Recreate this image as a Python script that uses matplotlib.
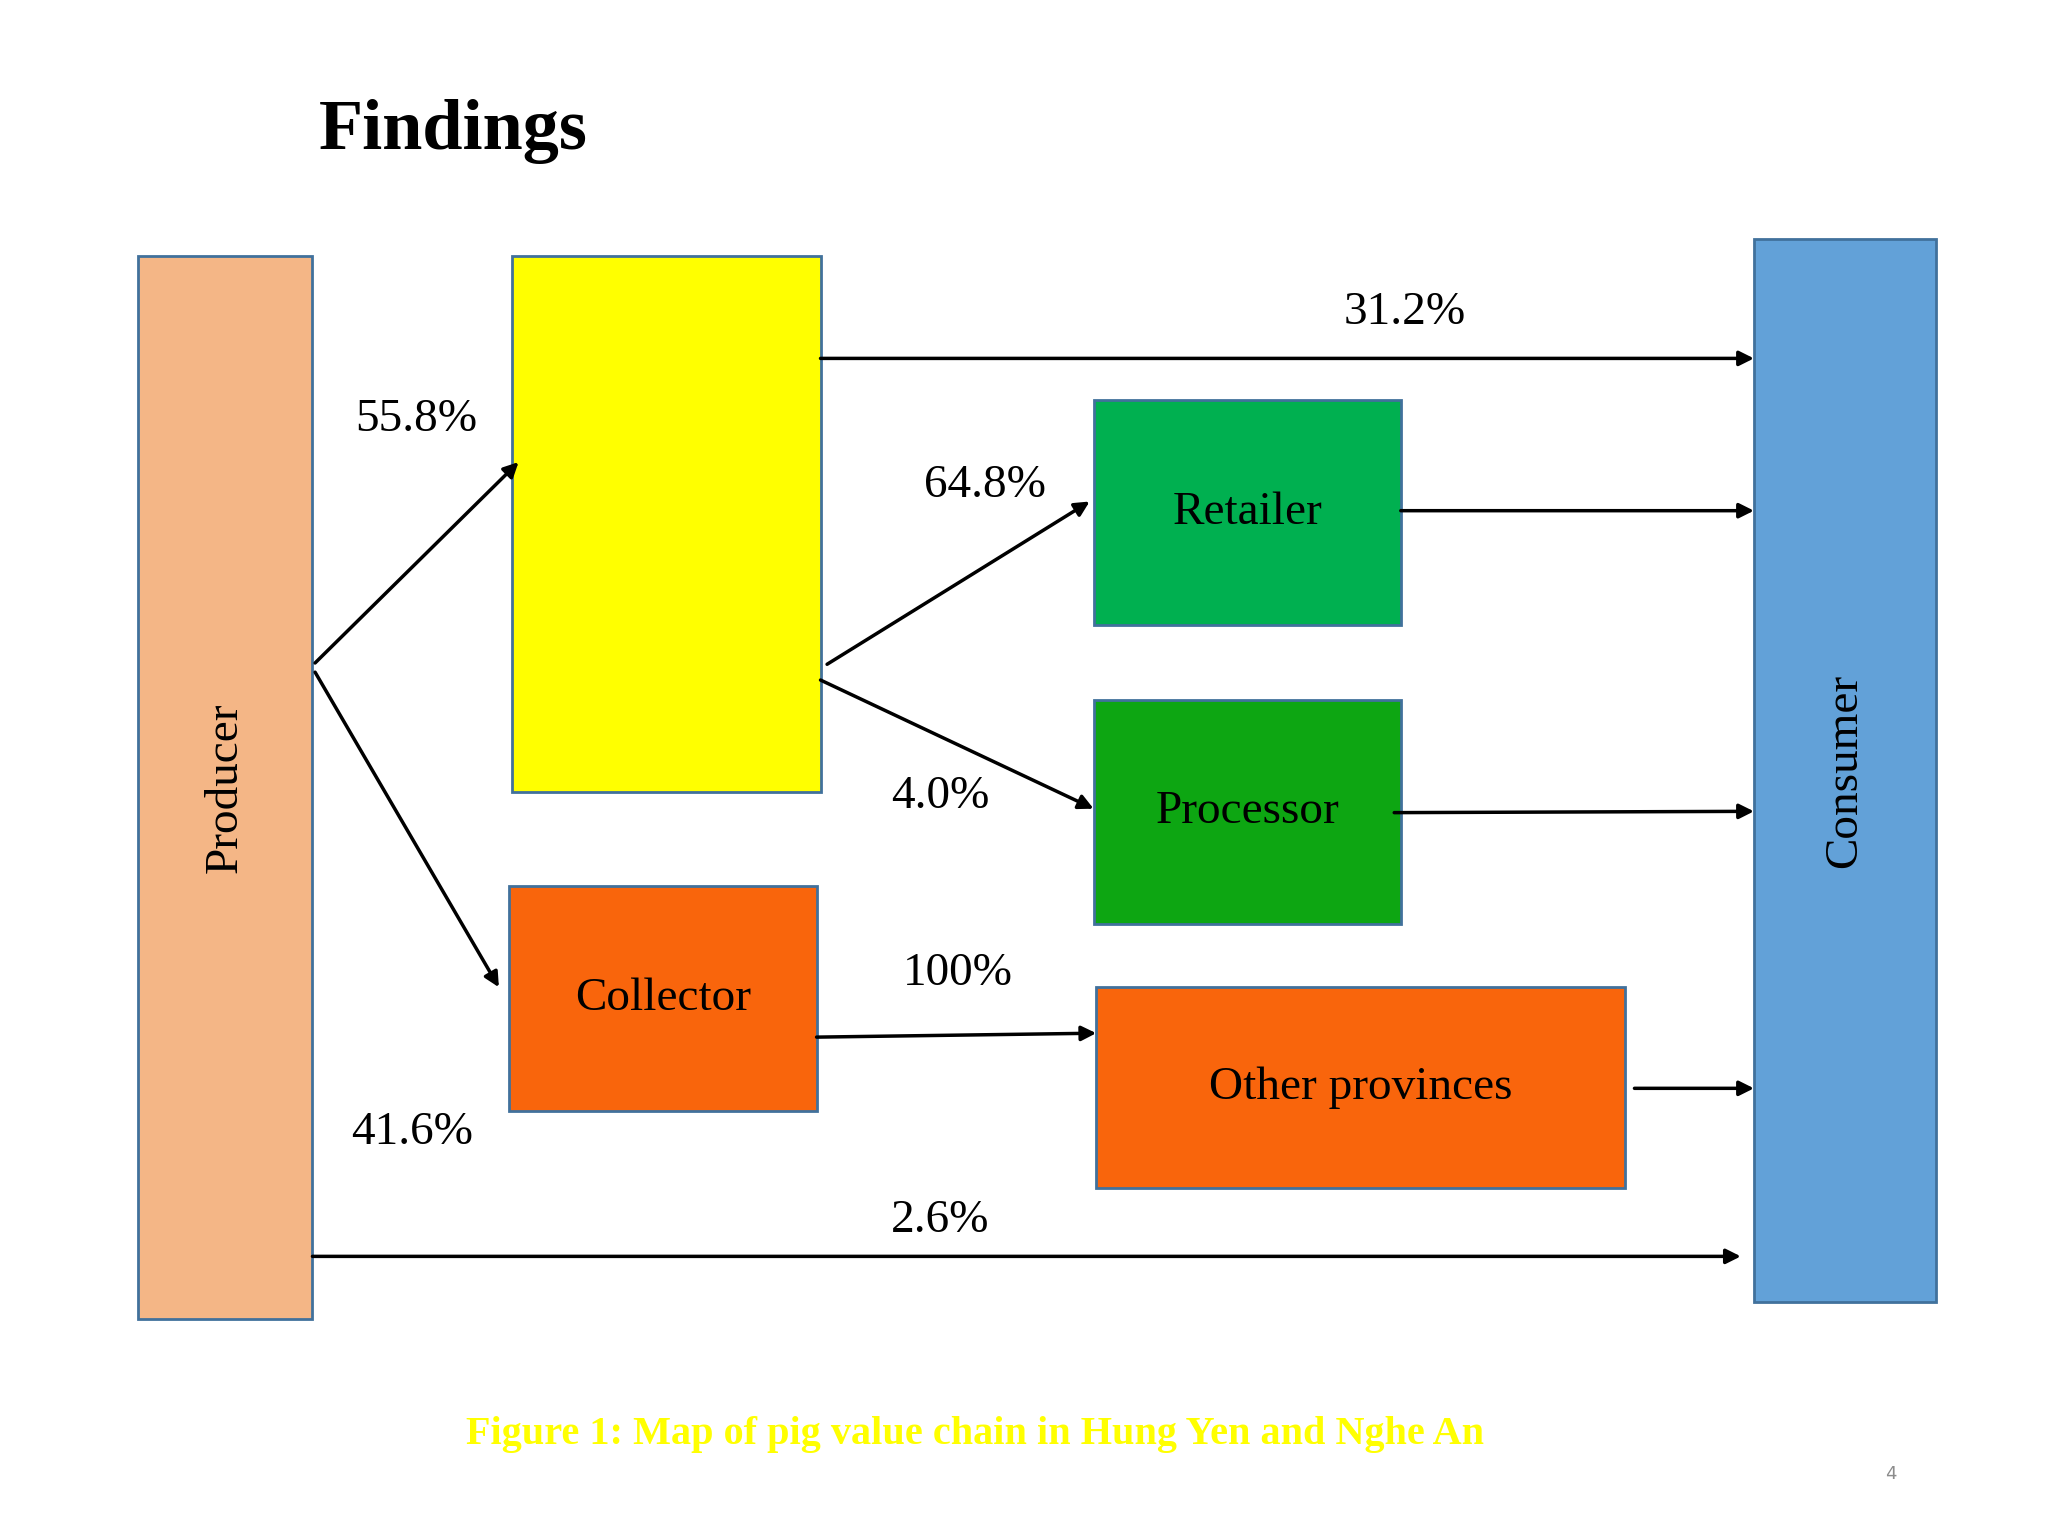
import matplotlib
matplotlib.use("Agg")
import matplotlib.pyplot as plt
from matplotlib.patches import Rectangle

W, H = 1560, 1170
# nodes: name, label, x0, y0, x1, y1, color, rotation
node_names = ["Producer", "Wholesaler", "Retailer", "Processor", "Collector", "Other provinces", "Consumer"]
node_labels = ["Producer", "", "Retailer", "Processor", "Collector", "Other provinces", "Consumer"]
node_boxes = [(105, 195, 238, 1005), (390, 195, 625, 603), (833, 305, 1067, 476),
              (833, 533, 1067, 704), (388, 675, 622, 846), (835, 752, 1238, 905),
              (1336, 182, 1475, 992)]
node_colors = ["#F4B686", "#FFFF00", "#00B050", "#0DA612", "#F9650C", "#F9650C", "#62A1D8"]
node_rot = [90, 0, 0, 0, 0, 0, 90]

flow_labels = ["55.8%", "41.6%", "31.2%", "64.8%", "4.0%", "", "", "100%", "", "2.6%"]
flow_lines = [((240, 505), (395, 352)), ((240, 512), (380, 752)), ((625, 273), (1336, 273)),
              ((630, 506), (830, 382)), ((625, 518), (833, 616)), ((1067, 389), (1336, 389)),
              ((1062, 619), (1336, 618)), ((622, 790), (835, 787)), ((1245, 829), (1336, 829)),
              ((238, 957), (1326, 957))]
label_pos = [(317, 320), (314, 863), (1070, 238), (750, 370), (716, 607), None, None,
             (730, 742), None, (716, 930)]

fig = plt.figure(figsize=(20.48, 15.36), dpi=100)
ax = fig.add_axes([0, 0, 1, 1])
ax.set_xlim(0, W)
ax.set_ylim(H, 0)
ax.axis("off")
serif = "Liberation Serif"

for lab, (x0, y0, x1, y1), c, r in zip(node_labels, node_boxes, node_colors, node_rot):
    ax.add_patch(Rectangle((x0, y0), x1 - x0, y1 - y0, facecolor=c, edgecolor="#41719C", lw=2))
    if lab:
        ax.text((x0 + x1) / 2, (y0 + y1) / 2, lab, rotation=r, ha="center", va="center",
                fontsize=34, family=serif, color="black")

for (p0, p1), lab, pos in zip(flow_lines, flow_labels, label_pos):
    ax.annotate("", xy=p1, xytext=p0,
                arrowprops=dict(arrowstyle="-|>", color="black", lw=2.5, mutation_scale=22,
                                shrinkA=0, shrinkB=0))
    if lab:
        ax.text(pos[0], pos[1], lab, ha="center", va="center", fontsize=34, family=serif)

ax.text(345, 100, "Findings", ha="center", va="center", fontsize=52, fontweight="bold", family=serif)
ax.text(743, 1093, "Figure 1: Map of pig value chain in Hung Yen and Nghe An", ha="center",
        va="center", fontsize=29, fontweight="bold", family=serif, color="#FFFF00")
ax.text(1440, 1123, "4", ha="center", va="center", fontsize=13, color="#8C8C8C")

fig.savefig("out.png", dpi=100)
